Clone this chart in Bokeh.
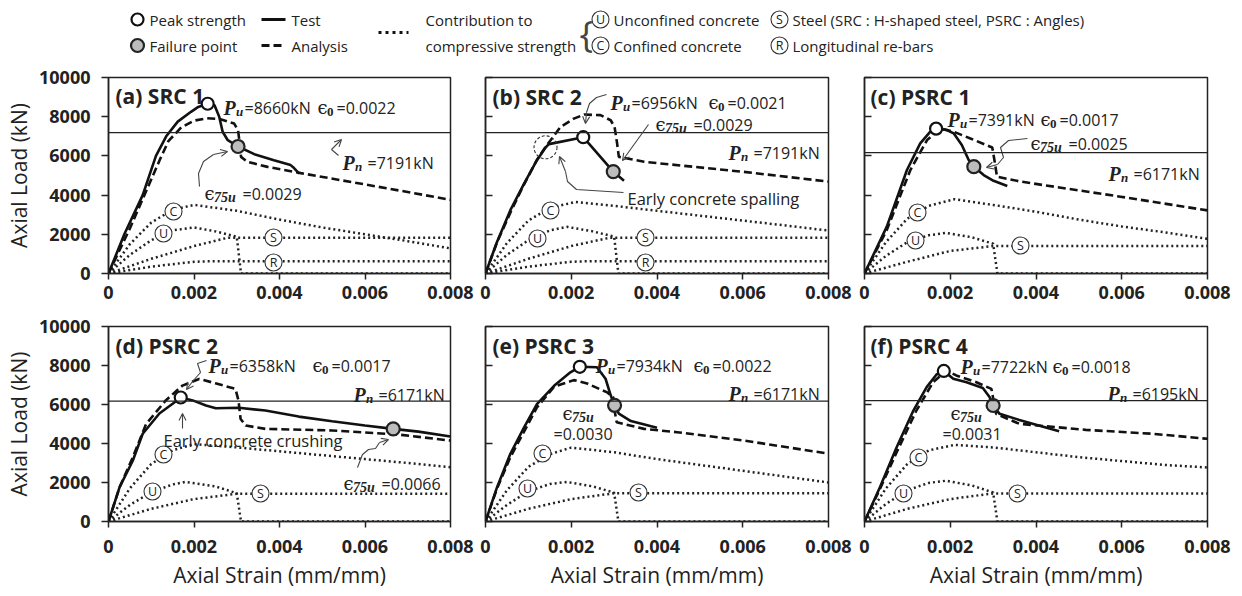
import math
from bokeh.plotting import figure
from bokeh.layouts import column, row
from bokeh.models import Range1d, FixedTicker, Span, Arrow, OpenHead, PrintfTickFormatter
from bokeh.core.properties import value
from bokeh.embed import file_html
from bokeh.resources import INLINE

# ---------------- data ----------------
panel_titles = ["(a) SRC 1", "(b) SRC 2", "(c) PSRC 1", "(d) PSRC 2", "(e) PSRC 3", "(f) PSRC 4"]
Pu_values = [8660, 6956, 7391, 6358, 7934, 7722]
Pu_text = ["=8660kN", "=6956kN", "=7391kN", "=6358kN", "=7934kN", "=7722kN"]
eps0_text = ["=0.0022", "=0.0021", "=0.0017", "=0.0017", "=0.0022", "=0.0018"]
eps75_text = ["=0.0029", "=0.0029", "=0.0025", "=0.0066", "=0.0030", "=0.0031"]
Pn_values = [7191, 7191, 6171, 6171, 6171, 6195]
Pn_text = ["=7191kN", "=7191kN", "=6171kN", "=6171kN", "=6171kN", "=6195kN"]
peak_strain = [0.00232, 0.00228, 0.00167, 0.00169, 0.00220, 0.00185]
failure_strain = [0.00303, 0.00298, 0.00255, 0.00666, 0.00301, 0.00300]
failure_load = [6480, 5200, 5450, 4750, 5960, 5950]
spall_strain = [0.00140]
spall_load = [6440]

x_ticks = [0, 0.002, 0.004, 0.006, 0.008]
y_ticks = [0, 2000, 4000, 6000, 8000, 10000]

# (a) SRC 1
a_test_strain = [0, 0.00037, 0.0008, 0.00111, 0.00135, 0.00162, 0.00193, 0.0021, 0.00232, 0.00248, 0.00259, 0.00267, 0.00279, 0.00303, 0.00341, 0.00387, 0.00426, 0.00434, 0.00446]
a_test_load = [0, 2000, 4000, 6000, 7000, 7750, 8250, 8500, 8660, 8580, 8000, 7230, 6800, 6480, 6090, 5780, 5530, 5380, 5100]
a_ana_strain = [0, 0.0005, 0.0009, 0.0012, 0.0014, 0.0017, 0.0020, 0.0023, 0.0026, 0.00294, 0.00303, 0.00306, 0.0031, 0.00325, 0.00372, 0.0045, 0.0057, 0.0068, 0.008]
a_ana_load = [0, 2300, 4300, 5800, 6750, 7450, 7800, 7920, 7880, 7650, 7310, 6800, 5950, 5700, 5440, 5120, 4660, 4235, 3760]
a_C_strain = [0, 0.0005, 0.001, 0.0015, 0.002, 0.003, 0.004, 0.005, 0.006, 0.007, 0.008]
a_C_load = [0, 1500, 2600, 3250, 3500, 3200, 2750, 2350, 2000, 1650, 1280]
a_U_strain = [0, 0.0005, 0.001, 0.0015, 0.002, 0.0025, 0.003, 0.0031, 0.008]
a_U_load = [0, 950, 1700, 2200, 2350, 2150, 1880, 0, 0]
a_S_strain = [0, 0.001, 0.002, 0.0028, 0.008]
a_S_load = [0, 750, 1400, 1830, 1830]
a_R_strain = [0, 0.001, 0.002, 0.0025, 0.008]
a_R_load = [0, 350, 600, 630, 630]

# (b) SRC 2
b_test_strain = [0, 0.00027, 0.00058, 0.0009, 0.0012, 0.0014, 0.00148, 0.00228, 0.00298, 0.00323]
b_test_load = [0, 1620, 3230, 4590, 5780, 6430, 6600, 6956, 5200, 4730]
b_ana_strain = [0, 0.00027, 0.0006, 0.0009, 0.0012, 0.0014, 0.00175, 0.00206, 0.0023, 0.00268, 0.00292, 0.00301, 0.00307, 0.00311, 0.0037, 0.006, 0.008]
b_ana_load = [0, 1600, 3200, 4550, 5800, 6450, 7480, 7900, 8110, 8080, 7820, 7480, 6630, 5950, 5700, 5190, 4690]
b_C_strain = [0, 0.0005, 0.001, 0.0015, 0.0021, 0.003, 0.004, 0.005, 0.006, 0.007, 0.008]
b_C_load = [0, 1550, 2700, 3350, 3650, 3450, 3200, 2950, 2700, 2450, 2190]
b_U_strain = [0, 0.0005, 0.001, 0.0015, 0.0019, 0.0025, 0.003, 0.0031, 0.008]
b_U_load = [0, 950, 1700, 2200, 2380, 2150, 1880, 0, 0]
b_S_strain = [0, 0.001, 0.002, 0.0029, 0.008]
b_S_load = [0, 750, 1400, 1830, 1830]
b_R_strain = [0, 0.001, 0.002, 0.0025, 0.008]
b_R_load = [0, 350, 600, 630, 630]

# (c) PSRC 1
c_test_strain = [0, 0.00052, 0.00099, 0.0013, 0.00153, 0.00167, 0.00192, 0.00208, 0.00227, 0.00243, 0.00255, 0.00278, 0.00301, 0.00333]
c_test_load = [0, 2390, 5280, 6640, 7230, 7391, 7320, 7150, 6560, 5790, 5450, 5020, 4730, 4460]
c_ana_strain = [0, 0.00052, 0.00107, 0.00146, 0.00177, 0.00208, 0.00247, 0.00298, 0.00303, 0.00309, 0.00364, 0.00442, 0.00597, 0.008]
c_ana_load = [0, 2220, 5280, 6810, 7400, 7230, 6890, 6430, 5790, 4940, 4690, 4430, 3920, 3220]
c_C_strain = [0, 0.0005, 0.001, 0.0015, 0.0021, 0.003, 0.004, 0.005, 0.006, 0.007, 0.008]
c_C_load = [0, 1600, 2800, 3450, 3790, 3500, 3150, 2750, 2400, 2100, 1770]
c_U_strain = [0, 0.0005, 0.001, 0.0015, 0.0019, 0.0025, 0.003, 0.0031, 0.008]
c_U_load = [0, 900, 1600, 1950, 2070, 1850, 1520, 0, 0]
c_S_strain = [0, 0.001, 0.002, 0.003, 0.008]
c_S_load = [0, 600, 1150, 1400, 1400]

# (d) PSRC 2
d_test_strain = [0, 0.00026, 0.00057, 0.0008, 0.00119, 0.0015, 0.00169, 0.00197, 0.00228, 0.00251, 0.00305, 0.00367, 0.00445, 0.00523, 0.006, 0.00666, 0.00725, 0.008]
d_test_load = [0, 1760, 3130, 4500, 5540, 6040, 6358, 6210, 5950, 5810, 5830, 5690, 5380, 5140, 4920, 4750, 4610, 4360]
d_ana_strain = [0, 0.00026, 0.00057, 0.00088, 0.00134, 0.00173, 0.00212, 0.0025, 0.00297, 0.00304, 0.00309, 0.00321, 0.00367, 0.00523, 0.00678, 0.008]
d_ana_load = [0, 1760, 3300, 5000, 6210, 6970, 7310, 7090, 6800, 6210, 5260, 4920, 4750, 4670, 4460, 4150]
d_C_strain = [0, 0.0005, 0.001, 0.0015, 0.002, 0.003, 0.004, 0.005, 0.006, 0.007, 0.008]
d_C_load = [0, 1700, 2950, 3650, 3970, 3800, 3600, 3400, 3200, 3000, 2780]
d_U_strain = [0, 0.0005, 0.001, 0.0015, 0.0018, 0.0025, 0.003, 0.0031, 0.008]
d_U_load = [0, 850, 1500, 1900, 2030, 1800, 1450, 0, 0]
d_S_strain = [0, 0.001, 0.002, 0.003, 0.008]
d_S_load = [0, 650, 1150, 1420, 1420]

# (e) PSRC 3
e_test_strain = [0, 0.00027, 0.00058, 0.0009, 0.0012, 0.0016, 0.00198, 0.0022, 0.0026, 0.0028, 0.00292, 0.00301, 0.00311, 0.00339, 0.004]
e_test_load = [0, 1760, 3470, 4830, 6020, 6960, 7650, 7934, 7910, 7320, 6470, 5960, 5530, 5150, 4810]
e_ana_strain = [0, 0.00027, 0.00058, 0.0012, 0.0016, 0.00206, 0.00237, 0.00284, 0.00298, 0.00301, 0.00306, 0.0037, 0.00447, 0.00603, 0.008]
e_ana_load = [0, 1700, 3300, 5850, 6910, 7250, 7080, 6620, 6370, 5690, 5090, 4750, 4580, 4150, 3480]
e_C_strain = [0, 0.0005, 0.001, 0.0015, 0.002, 0.003, 0.004, 0.005, 0.006, 0.007, 0.008]
e_C_load = [0, 1600, 2800, 3450, 3790, 3550, 3200, 2900, 2600, 2300, 2000]
e_U_strain = [0, 0.0005, 0.001, 0.0015, 0.0019, 0.0025, 0.003, 0.0031, 0.008]
e_U_load = [0, 850, 1550, 1920, 2030, 1800, 1480, 0, 0]
e_S_strain = [0, 0.001, 0.002, 0.003, 0.008]
e_S_load = [0, 650, 1150, 1450, 1450]

# (f) PSRC 4
f_test_strain = [0, 0.00036, 0.00075, 0.00114, 0.00145, 0.00168, 0.00185, 0.00207, 0.00238, 0.00276, 0.00292, 0.003, 0.00315, 0.00361, 0.00454]
f_test_load = [0, 1760, 3810, 5690, 6890, 7540, 7722, 7320, 7140, 6850, 6370, 5950, 5520, 5210, 4630]
f_ana_strain = [0, 0.00036, 0.00075, 0.00121, 0.0016, 0.00191, 0.00214, 0.00261, 0.00296, 0.00301, 0.00307, 0.00361, 0.00516, 0.00671, 0.008]
f_ana_load = [0, 1670, 3550, 5690, 7140, 7740, 7490, 7140, 6800, 6210, 5520, 5010, 4700, 4500, 4240]
f_C_strain = [0, 0.0005, 0.001, 0.0015, 0.0021, 0.003, 0.004, 0.005, 0.006, 0.007, 0.008]
f_C_load = [0, 1700, 2950, 3650, 3930, 3800, 3550, 3300, 3100, 2900, 2770]
f_U_strain = [0, 0.0005, 0.001, 0.0015, 0.0019, 0.0025, 0.003, 0.0031, 0.008]
f_U_load = [0, 900, 1600, 1980, 2090, 1850, 1490, 0, 0]
f_S_strain = [0, 0.001, 0.002, 0.003, 0.008]
f_S_load = [0, 650, 1150, 1440, 1440]

tests = [(a_test_strain, a_test_load), (b_test_strain, b_test_load), (c_test_strain, c_test_load),
         (d_test_strain, d_test_load), (e_test_strain, e_test_load), (f_test_strain, f_test_load)]
analyses = [(a_ana_strain, a_ana_load), (b_ana_strain, b_ana_load), (c_ana_strain, c_ana_load),
            (d_ana_strain, d_ana_load), (e_ana_strain, e_ana_load), (f_ana_strain, f_ana_load)]
contribs = [
    [(a_C_strain, a_C_load), (a_U_strain, a_U_load), (a_S_strain, a_S_load), (a_R_strain, a_R_load)],
    [(b_C_strain, b_C_load), (b_U_strain, b_U_load), (b_S_strain, b_S_load), (b_R_strain, b_R_load)],
    [(c_C_strain, c_C_load), (c_U_strain, c_U_load), (c_S_strain, c_S_load)],
    [(d_C_strain, d_C_load), (d_U_strain, d_U_load), (d_S_strain, d_S_load)],
    [(e_C_strain, e_C_load), (e_U_strain, e_U_load), (e_S_strain, e_S_load)],
    [(f_C_strain, f_C_load), (f_U_strain, f_U_load), (f_S_strain, f_S_load)],
]

# ---------------- layout ----------------
SANS = "Open Sans"
SERIF = "Liberation Serif"
INK = "#222222"
ORIGIN = 0
FIG_W = [475, 379, 378]
BL = [108, 10, 10]
BR = [25, 26, 25]
FW = [342, 343, 343]
LEG_H = 60
ROW_TOP = [60, 309]
BT = [17, 17]
FH = [196, 195]
BB = [36, 74]


def frame_box(i):
    r, c = divmod(i, 3)
    left = ORIGIN + sum(FIG_W[:c]) + BL[c]
    top = ROW_TOP[r] + BT[r]
    return left, top, FW[c], FH[r]


def px2data(i, px, py):
    left, top, w, h = frame_box(i)
    return (px - left) / w * 0.008, (top + h - py) / h * 10000


def txt(p, x, y, t, size, style="normal", font=SANS, color=INK, align="left",
        baseline="alphabetic", dx=0, dy=0):
    p.text(x=[x], y=[y], text=[t], x_offset=dx, y_offset=dy, text_font=value(font),
           text_font_size=f"{size}px", text_font_style=style, text_color=color,
           text_align=align, text_baseline=baseline)


def sym(p, i, px, py, main, sub, rest):
    x, y = px2data(i, px, py)
    if main == "P":
        txt(p, x, y, "P", 20, "bold italic", SERIF)
        txt(p, x, y, sub, 13, "bold italic", SERIF, dx=12.5, dy=4)
        rdx = 21 if sub == "u" else 25
    else:
        txt(p, x, y, "\u03f5", 18, "normal", "DejaVu Serif")
        txt(p, x, y, sub, 13 if sub == "0" else 14, "bold" if sub == "0" else "bold italic", SERIF, dx=9.5, dy=4)
        rdx = 19 if sub == "0" else 38
    if rest:
        txt(p, x, y, rest, 16, dx=rdx)


def arrow_path(p, i, pts):
    d = [px2data(i, a, b) for a, b in pts]
    if len(d) > 2:
        p.line([q[0] for q in d[:-1]], [q[1] for q in d[:-1]], line_color="#444", line_width=1.1)
    (x0, y0), (x1, y1) = d[-2], d[-1]
    p.add_layout(Arrow(end=OpenHead(size=7, line_color="#444", line_width=1.1),
                       x_start=x0, y_start=y0, x_end=x1, y_end=y1,
                       line_color="#444", line_width=1.1))


def circ_label(p, i, px, py, letter):
    x, y = px2data(i, px, py)
    p.scatter([x], [y], size=17, fill_color="white", line_color="#333", line_width=1.1)
    txt(p, x, y, letter, 12.5, align="center", baseline="middle")


# annotation placements (page px)
ANN = [
    dict(title=(115, 95), pu=(223, 107), e0=(317, 107), pn=(342, 162), e75=(204, 193), split=None,
         labels=[(173, 211, "C"), (163, 233, "U"), (273, 237, "S"), (273, 262, "R")]),
    dict(title=(492, 96), pu=(610, 102), e0=(708, 102), pn=(728, 152), e75=(655, 124), split=None,
         labels=[(550, 210, "C"), (537, 238, "U"), (645, 237, "S"), (645, 262, "R")]),
    dict(title=(870, 96), pu=(947, 119), e0=(1040, 119), pn=(1108, 173), e75=(1030, 143), split=None,
         labels=[(917, 212, "C"), (915, 240, "U"), (1020, 245, "S")]),
    dict(title=(115, 345), pu=(208, 365), e0=(312, 365), pn=(353, 394), e75=(343, 483), split=None,
         labels=[(163, 454, "C"), (152, 491, "U"), (260, 493, "S")]),
    dict(title=(492, 345), pu=(595, 365), e0=(693, 365), pn=(728, 393), e75=(562, 413), split=(553, 433),
         labels=[(542, 453, "C"), (527, 488, "U"), (638, 492, "S")]),
    dict(title=(870, 345), pu=(960, 366), e0=(1052, 366), pn=(1107, 393), e75=(950, 413), split=(942, 433),
         labels=[(918, 457, "C"), (903, 493, "U"), (1017, 493, "S")]),
]

ARROWS = {
    0: [[(199, 186), (198, 173), (203, 161), (213, 154), (227, 151)],
        [(338, 155), (331, 149), (341, 139)]],
    1: [[(606, 94), (596, 97), (589, 103), (586, 112), (585, 123)],
        [(648, 124), (622, 160)],
        [(623, 192), (576, 189), (567, 181), (565, 171), (559, 156)]],
    2: [[(1027, 138), (1008, 140), (1000, 147), (1003, 157), (997, 164), (986, 167)]],
    3: [[(206, 360), (197, 363), (200, 372), (192, 381), (186, 389)],
        [(182, 428), (182, 413)],
        [(357, 467), (362, 454), (368, 449), (375, 448), (379, 442), (388, 439)]],
}


def make_panel(i):
    r, c = divmod(i, 3)
    p = figure(width=FIG_W[c], height=BT[r] + FH[r] + BB[r],
               x_range=Range1d(0, 0.008), y_range=Range1d(0, 10000),
               output_backend="svg", toolbar_location=None,
               min_border_left=BL[c], min_border_right=BR[c],
               min_border_top=BT[r], min_border_bottom=BB[r])
    p.grid.visible = False
    p.outline_line_color = INK
    p.outline_line_width = 1.5

    xa = p.xaxis[0]
    xa.ticker = FixedTicker(ticks=x_ticks)
    xa.formatter = PrintfTickFormatter(format="%.3f")
    xa.major_label_overrides = {0: "0"}
    xa.major_label_text_font = SANS
    xa.major_label_text_font_style = "bold"
    xa.major_label_text_font_size = "18px"
    xa.major_label_text_color = INK
    xa.major_tick_out = 6
    xa.major_tick_in = 0
    xa.minor_tick_line_color = None
    xa.major_label_standoff = 6 if r == 0 else 12
    xa.axis_line_color = INK
    xa.axis_line_width = 1.5
    xa.major_tick_line_width = 1.5
    xa.major_tick_line_color = INK
    if r == 1:
        xa.axis_label = "Axial Strain (mm/mm)"
        xa.axis_label_text_font = SANS
        xa.axis_label_text_font_size = "21px"
        xa.axis_label_text_font_style = "normal"
        xa.axis_label_text_color = INK
        xa.axis_label_standoff = 5

    ya = p.yaxis[0]
    ya.ticker = FixedTicker(ticks=y_ticks)
    ya.minor_tick_line_color = None
    ya.axis_line_color = INK
    ya.axis_line_width = 1.5
    ya.major_tick_line_width = 1.5
    ya.major_tick_line_color = INK
    if c == 0:
        ya.major_label_text_font = SANS
        ya.major_label_text_font_style = "bold"
        ya.major_label_text_font_size = "18px"
        ya.major_label_text_color = INK
        ya.major_tick_out = 7
        ya.major_tick_in = 0
        ya.major_label_standoff = 11
        ya.axis_label = "Axial Load (kN)"
        ya.axis_label_text_font = SANS
        ya.axis_label_text_font_size = "21px"
        ya.axis_label_text_font_style = "normal"
        ya.axis_label_text_color = INK
        ya.axis_label_standoff = 3
    else:
        ya.major_label_overrides = {t: "" for t in y_ticks}
        ya.major_tick_out = 0
        ya.major_tick_in = 7
        ya.major_label_standoff = 0

    p.add_layout(Span(location=Pn_values[i], dimension="width", line_color=INK, line_width=1.2))

    for s, l in contribs[i]:
        p.line(s, l, line_color=INK, line_width=2.5, line_dash="2 3")
    s, l = analyses[i]
    p.line(s, l, line_color="#111111", line_width=2.6, line_dash="8 4")
    s, l = tests[i]
    p.line(s, l, line_color="#111111", line_width=2.6)

    if i == 1:
        p.scatter(spall_strain, spall_load, size=23, fill_color=None, line_color="#333",
                  line_width=1.1, line_dash="3 2")

    p.scatter([peak_strain[i]], [Pu_values[i]], size=12, fill_color="white",
              line_color="#111111", line_width=2.2)
    p.scatter([failure_strain[i]], [failure_load[i]], size=13, fill_color="#bdbdbd",
              line_color="#222222", line_width=2.2)

    A = ANN[i]
    for lx, ly, letter in A["labels"]:
        circ_label(p, i, lx, ly, letter)

    tx, ty = px2data(i, *A["title"])
    txt(p, tx, ty, panel_titles[i], 21, "bold")
    sym(p, i, *A["pu"], "P", "u", Pu_text[i])
    sym(p, i, *A["e0"], "e", "0", eps0_text[i])
    sym(p, i, *A["pn"], "P", "n", Pn_text[i])
    if A["split"] is None:
        sym(p, i, *A["e75"], "e", "75u", eps75_text[i])
    else:
        sym(p, i, *A["e75"], "e", "75u", "")
        sx, sy = px2data(i, *A["split"])
        txt(p, sx, sy, eps75_text[i], 16)

    if i == 1:
        ex, ey = px2data(i, 627, 198)
        txt(p, ex, ey, "Early concrete spalling", 16.5)
    if i == 3:
        ex, ey = px2data(i, 163, 440)
        txt(p, ex, ey, "Early concrete crushing", 16.5)

    for path in ARROWS.get(i, []):
        arrow_path(p, i, path)
    return p


# ---------------- legend ----------------
leg = figure(width=sum(FIG_W), height=LEG_H, x_range=Range1d(ORIGIN, ORIGIN + sum(FIG_W)),
             y_range=Range1d(ORIGIN + LEG_H, ORIGIN), output_backend="svg", toolbar_location=None,
             min_border=0)
leg.axis.visible = False
leg.grid.visible = False
leg.outline_line_color = None

LF = 15


def ltxt(x, y, t, size=LF, font=SANS):
    leg.text(x=[x], y=[y], text=[t], text_font=value(font), text_font_size=f"{size}px",
             text_color=INK, text_align="left", text_baseline="middle")


leg.scatter([137], [19], size=12, fill_color="white", line_color="#111", line_width=2.2)
ltxt(149, 19, "Peak strength")
leg.scatter([137], [45], size=13, fill_color="#bdbdbd", line_color="#222", line_width=2.2)
ltxt(149, 45, "Failure point")
leg.line([261, 285], [19, 19], line_color="#111", line_width=3)
ltxt(291, 19, "Test")
leg.line([261, 285], [45, 45], line_color="#111", line_width=3, line_dash="8 4")
ltxt(291, 45, "Analysis")
leg.line([378, 408], [32, 32], line_color="#111", line_width=3, line_dash="3 4")
ltxt(425, 19, "Contribution to")
ltxt(425, 45, "compressive strength")
leg.text(x=[579], y=[33], text=["{"], text_font=value(SANS), text_font_size="36px",
         text_color="#444", text_align="left", text_baseline="middle")
for cx, cy, letter, label in [(600, 19, "U", "Unconfined concrete"),
                              (779, 19, "S", "Steel (SRC : H-shaped steel, PSRC : Angles)"),
                              (600, 45, "C", "Confined concrete"),
                              (779, 45, "R", "Longitudinal re-bars")]:
    leg.scatter([cx], [cy], size=17, fill_color="white", line_color="#333", line_width=1.1)
    leg.text(x=[cx], y=[cy], text=[letter], text_font=value(SANS), text_font_size="12.5px",
             text_color=INK, text_align="center", text_baseline="middle")
    ltxt(cx + 13, cy, label)

panels = [make_panel(i) for i in range(6)]
layout = column(leg, row(*panels[:3]), row(*panels[3:]))

with open("out.html", "w") as fh:
    fh.write(file_html(layout, INLINE))
